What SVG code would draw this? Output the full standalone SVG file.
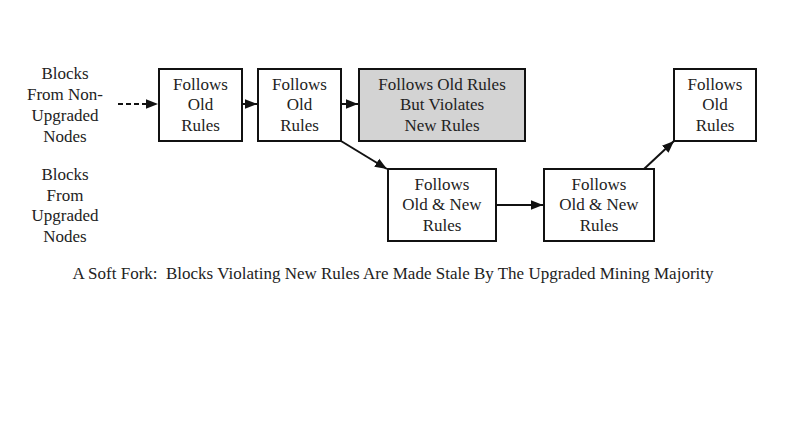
<svg xmlns="http://www.w3.org/2000/svg" width="800" height="432" viewBox="0 0 800 432">
<defs>
<style>
text{font-family:"Liberation Serif","Times New Roman",serif;font-size:17px;fill:#222;text-anchor:middle;white-space:pre}
.box{fill:#fff;stroke:#111;stroke-width:2}
.gray{fill:#d3d3d3}
.edge{stroke:#111;stroke-width:2;fill:none}
</style>
<marker id="ah" viewBox="0 0 10 10" refX="10" refY="5" markerWidth="6" markerHeight="6" markerUnits="strokeWidth" orient="auto">
<path d="M0,1 L10,5 L0,9 z" fill="#111"/>
</marker>
</defs>
<rect width="800" height="432" fill="#fff"/>
<g id="label-nonupgraded">
<text x="65" y="79">Blocks</text>
<text x="65" y="100">From Non-</text>
<text x="65" y="121">Upgraded</text>
<text x="65" y="142">Nodes</text>
</g>
<g id="label-upgraded">
<text x="65" y="180">Blocks</text>
<text x="65" y="201">From</text>
<text x="65" y="221">Upgraded</text>
<text x="65" y="242">Nodes</text>
</g>
<g id="n1">
<rect class="box" x="159" y="69" width="83" height="72"/>
<text x="200.5" y="90">Follows</text>
<text x="200.5" y="110">Old</text>
<text x="200.5" y="131">Rules</text>
</g>
<g id="n2">
<rect class="box" x="258" y="69" width="83" height="72"/>
<text x="299.5" y="90">Follows</text>
<text x="299.5" y="110">Old</text>
<text x="299.5" y="131">Rules</text>
</g>
<g id="n3">
<rect class="box gray" x="359" y="69" width="166" height="72"/>
<text x="442" y="90">Follows Old Rules</text>
<text x="442" y="110">But Violates</text>
<text x="442" y="131">New Rules</text>
</g>
<g id="n4">
<rect class="box" x="388" y="169" width="108" height="72"/>
<text x="442" y="190">Follows</text>
<text x="442" y="210">Old &amp; New</text>
<text x="442" y="231">Rules</text>
</g>
<g id="n5">
<rect class="box" x="544" y="169" width="110" height="72"/>
<text x="599" y="190">Follows</text>
<text x="599" y="210">Old &amp; New</text>
<text x="599" y="231">Rules</text>
</g>
<g id="n6">
<rect class="box" x="674" y="69" width="82" height="72"/>
<text x="715" y="90">Follows</text>
<text x="715" y="110">Old</text>
<text x="715" y="131">Rules</text>
</g>
<g id="connectors">
<line class="edge" x1="118" y1="104" x2="158" y2="104" stroke-dasharray="5,3" marker-end="url(#ah)"/>
<line class="edge" x1="242" y1="104" x2="257" y2="104" marker-end="url(#ah)"/>
<line class="edge" x1="341" y1="104" x2="358" y2="104" marker-end="url(#ah)"/>
<line class="edge" x1="341" y1="141" x2="387" y2="169" marker-end="url(#ah)"/>
<line class="edge" x1="496" y1="205" x2="543" y2="205" marker-end="url(#ah)"/>
<line class="edge" x1="644" y1="169" x2="674" y2="141" marker-end="url(#ah)"/>
</g>
<text x="393" y="279" xml:space="preserve">A Soft Fork:  Blocks Violating New Rules Are Made Stale By The Upgraded Mining Majority</text>
</svg>
